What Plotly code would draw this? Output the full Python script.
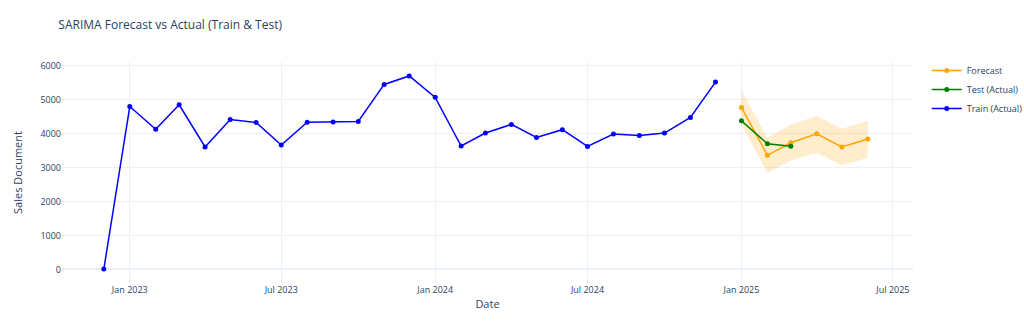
import plotly.graph_objects as go
import pandas as pd

train_dates = pd.date_range("2022-12-01", "2024-12-01", freq="MS")
train_values = [10, 4790, 4120, 4840, 3600, 4410, 4320, 3660, 4330, 4335, 4350,
                5440, 5690, 5060, 3630, 4010, 4265, 3880, 4110, 3615, 3980,
                3940, 4010, 4470, 5510]

test_dates = pd.date_range("2025-01-01", "2025-03-01", freq="MS")
test_values = [4370, 3695, 3620]

fc_dates = pd.date_range("2025-01-01", "2025-06-01", freq="MS")
fc_values = [4765, 3355, 3725, 3990, 3600, 3835]
fc_upper = [5265, 3875, 4265, 4510, 4135, 4365]
fc_lower = [4265, 2835, 3205, 3430, 3060, 3285]

fig = go.Figure()
fig.add_trace(go.Scatter(x=list(fc_dates) + list(fc_dates[::-1]),
                         y=fc_upper + fc_lower[::-1],
                         fill="toself", fillcolor="rgba(255,165,0,0.2)",
                         line=dict(color="rgba(0,0,0,0)", width=0), hoverinfo="skip",
                         showlegend=False, mode="lines"))
fig.add_trace(go.Scatter(x=fc_dates, y=fc_values, mode="lines+markers",
                         name="Forecast", line=dict(color="orange", width=1.5),
                         marker=dict(size=5)))
fig.add_trace(go.Scatter(x=test_dates, y=test_values, mode="lines+markers",
                         name="Test (Actual)", line=dict(color="green", width=1.5),
                         marker=dict(size=5)))
fig.add_trace(go.Scatter(x=train_dates, y=train_values, mode="lines+markers",
                         name="Train (Actual)", line=dict(color="blue", width=1.5),
                         marker=dict(size=5)))

fig.update_layout(
    template="plotly_white",
    width=1024, height=330,
    font=dict(size=9),
    title=dict(text="SARIMA Forecast vs Actual (Train & Test)", font=dict(size=12),
               x=0.057, xanchor="left", y=0.925, yanchor="middle"),
    xaxis=dict(title=dict(text="Date", standoff=5),
               range=["2022-10-12", "2025-07-25"]),
    yaxis=dict(title="Sales Document", range=[-400, 6100], dtick=1000),
    margin=dict(l=62, r=111, t=62, b=47),
    legend=dict(traceorder="normal", xref="container", yref="container",
                x=0.905, xanchor="left", y=0.83, yanchor="top", font=dict(size=9)),
)
fig.write_html("out.html")
